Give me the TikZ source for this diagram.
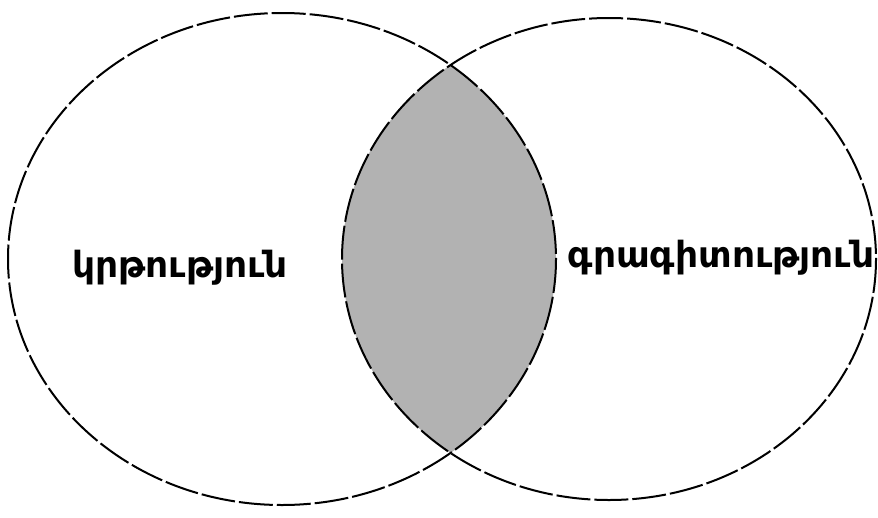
\documentclass[tikz,border=0pt]{standalone}
\usepackage{fontspec}
\newfontfamily\armfont{DejaVu Sans}
\begin{document}
\begin{tikzpicture}[x=1pt,y=-1pt,
  venn/.style={line width=2pt, dash pattern=on 34pt off 4pt},
  lbl/.style={font=\armfont\bfseries\fontsize{36}{42}\selectfont, inner sep=0pt}]
\useasboundingbox (0,0) rectangle (878,517);
\begin{scope}
  \clip (282,259) ellipse [x radius=274, y radius=246];
  \fill[gray!60] (609,259) ellipse [x radius=267, y radius=241];
\end{scope}
\draw[venn] (282,259) ellipse [x radius=274, y radius=246];
\draw[venn] (609,259) ellipse [x radius=267, y radius=241];
\node[lbl] (a) at (180,268) {կրթություն};
\node[lbl] (b) at (721,258) {գրագիտություն};
\end{tikzpicture}
\end{document}
